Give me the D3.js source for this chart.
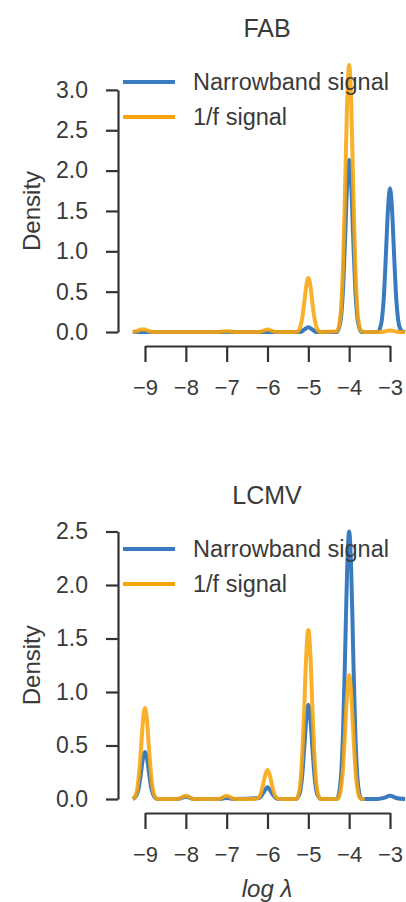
<!DOCTYPE html>
<meta charset="utf-8">
<script src="https://cdn.jsdelivr.net/npm/d3@7"></script>
<style>
  body { margin: 0; background: #fff; }
  text { font-family: "Liberation Sans", Arial, sans-serif; fill: #3a3a3a; }
</style>
<div id="dataviz"></div>
<script>
// series names + colours
var seriesNames = ["Narrowband signal", "1/f signal"];
var seriesColors = ["#3a7bbf", "#f8a50c"];
var xTicks = [-9, -8, -7, -6, -5, -4, -3];

// FAB panel, [log lambda, density]
var fabNarrow = [
  [-9.3, 0], [-8.0, 0], [-7.0, 0], [-6.0, 0], [-5.2, 0], [-5.1, 0.03], [-5.0, 0.06], [-4.9, 0.03], [-4.8, 0],
  [-4.3, 0], [-4.25, 0.05], [-4.2, 0.18], [-4.15, 0.53], [-4.1, 1.15], [-4.05, 1.83], [-4.0, 2.13],
  [-3.95, 1.83], [-3.9, 1.15], [-3.85, 0.53], [-3.8, 0.18], [-3.75, 0.05], [-3.7, 0],
  [-3.3, 0], [-3.25, 0.04], [-3.2, 0.15], [-3.15, 0.44], [-3.1, 0.96], [-3.05, 1.52], [-3.0, 1.78],
  [-2.95, 1.52], [-2.9, 0.96], [-2.85, 0.44], [-2.8, 0.15], [-2.75, 0.04], [-2.7, 0.01], [-2.63, 0]
];
var fabOneF = [
  [-9.3, 0], [-9.2, 0.01], [-9.1, 0.03], [-9.0, 0.03], [-8.9, 0.01], [-8.8, 0], [-8.0, 0],
  [-7.2, 0], [-7.0, 0.01], [-6.8, 0], [-6.2, 0], [-6.0, 0.03], [-5.8, 0], [-5.3, 0],
  [-5.25, 0.01], [-5.2, 0.06], [-5.15, 0.17], [-5.1, 0.36], [-5.05, 0.57], [-5.0, 0.67],
  [-4.95, 0.57], [-4.9, 0.36], [-4.85, 0.17], [-4.8, 0.06], [-4.75, 0.01], [-4.7, 0],
  [-4.3, 0.01], [-4.25, 0.07], [-4.2, 0.28], [-4.15, 0.83], [-4.1, 1.79], [-4.05, 2.84], [-4.0, 3.31],
  [-3.95, 2.84], [-3.9, 1.79], [-3.85, 0.83], [-3.8, 0.28], [-3.75, 0.07], [-3.7, 0.01], [-3.6, 0],
  [-3.2, 0], [-3.0, 0.02], [-2.8, 0], [-2.63, 0]
];

// LCMV panel
var lcmvNarrow = [
  [-9.3, 0], [-9.2, 0.04], [-9.15, 0.11], [-9.1, 0.24], [-9.05, 0.38], [-9.0, 0.44], [-8.95, 0.38],
  [-8.9, 0.24], [-8.85, 0.11], [-8.8, 0.04], [-8.7, 0], [-8.2, 0], [-8.0, 0.02], [-7.8, 0],
  [-7.2, 0], [-7.0, 0.01], [-6.8, 0], [-6.2, 0.01], [-6.15, 0.03], [-6.1, 0.06], [-6.05, 0.09], [-6.0, 0.11],
  [-5.95, 0.09], [-5.9, 0.06], [-5.85, 0.03], [-5.8, 0.01], [-5.7, 0], [-5.3, 0],
  [-5.25, 0.02], [-5.2, 0.07], [-5.15, 0.22], [-5.1, 0.48], [-5.05, 0.75], [-5.0, 0.88],
  [-4.95, 0.75], [-4.9, 0.48], [-4.85, 0.22], [-4.8, 0.07], [-4.75, 0.02], [-4.7, 0],
  [-4.3, 0], [-4.25, 0.05], [-4.2, 0.21], [-4.15, 0.62], [-4.1, 1.35], [-4.05, 2.14], [-4.0, 2.50],
  [-3.95, 2.14], [-3.9, 1.35], [-3.85, 0.62], [-3.8, 0.21], [-3.75, 0.05], [-3.7, 0],
  [-3.3, 0], [-3.15, 0.01], [-3.0, 0.03], [-2.85, 0.01], [-2.63, 0]
];
var lcmvOneF = [
  [-9.3, 0], [-9.25, 0.02], [-9.2, 0.07], [-9.15, 0.22], [-9.1, 0.46], [-9.05, 0.73], [-9.0, 0.85],
  [-8.95, 0.73], [-8.9, 0.46], [-8.85, 0.22], [-8.8, 0.07], [-8.75, 0.02], [-8.7, 0],
  [-8.2, 0], [-8.0, 0.03], [-7.8, 0], [-7.2, 0], [-7.0, 0.03], [-6.8, 0], [-6.3, 0],
  [-6.2, 0.02], [-6.15, 0.07], [-6.1, 0.15], [-6.05, 0.23], [-6.0, 0.27], [-5.95, 0.23],
  [-5.9, 0.15], [-5.85, 0.07], [-5.8, 0.02], [-5.7, 0], [-5.3, 0],
  [-5.25, 0.03], [-5.2, 0.13], [-5.15, 0.40], [-5.1, 0.85], [-5.05, 1.35], [-5.0, 1.58],
  [-4.95, 1.35], [-4.9, 0.85], [-4.85, 0.40], [-4.8, 0.13], [-4.75, 0.03], [-4.7, 0],
  [-4.3, 0], [-4.25, 0.02], [-4.2, 0.10], [-4.15, 0.29], [-4.1, 0.63], [-4.05, 0.99], [-4.0, 1.16],
  [-3.95, 0.99], [-3.9, 0.63], [-3.85, 0.29], [-3.8, 0.10], [-3.75, 0.02], [-3.7, 0], [-3.62, 0]
];

var W = 406, H = 902;
var svg = d3.select("#dataviz").append("svg")
    .attr("width", W)
    .attr("height", H);

// shared x scale
var x = d3.scaleLinear().domain([-9, -3]).range([145, 390]);

function panel(opt) {
    var y = d3.scaleLinear().domain([0, opt.ymax]).range([opt.y0, opt.y0 - opt.unit * opt.ymax]);
    var g = svg.append("g");

    // title
    g.append("text")
        .attr("x", 267).attr("y", opt.titleY)
        .attr("text-anchor", "middle")
        .attr("dominant-baseline", "central")
        .style("font-size", "25px")
        .text(opt.title);

    // y axis (offset spine)
    var ya = g.append("g")
        .attr("transform", "translate(118,0)")
        .call(d3.axisLeft(y).tickValues(d3.range(0, opt.ymax + 0.01, 0.5)).tickFormat(d3.format(".1f")).tickSize(12).tickPadding(18).tickSizeOuter(0));
    // x axis
    var xa = g.append("g")
        .attr("transform", "translate(0," + opt.xAxisY + ")")
        .call(d3.axisBottom(x).tickValues(xTicks).tickFormat(d3.format("d")).tickSize(16).tickPadding(17).tickSizeOuter(0));
    [ya, xa].forEach(function(a) {
        a.select(".domain").attr("stroke", "#333").attr("stroke-width", 2.2);
        a.selectAll(".tick line").attr("stroke", "#333").attr("stroke-width", 2.2);
        a.selectAll(".tick text").style("font-size", "22px").style("font-family", "Liberation Sans, Arial, sans-serif").attr("fill", "#3a3a3a");
    });
    ya.selectAll(".tick text").style("font-size", "23px");

    g.append("text")
        .attr("transform", "translate(40," + ((y(0) + y(opt.ymax)) / 2) + ") rotate(-90)")
        .attr("text-anchor", "middle")
        .style("font-size", "24px")
        .text("Density");

    var line = d3.line()
        .x(d => x(d[0]))
        .y(d => y(d[1]))
        .curve(d3.curveMonotoneX);

    [opt.narrow, opt.onef].forEach(function(s, i) {
        g.append("path")
            .datum(s)
            .attr("fill", "none")
            .attr("stroke", seriesColors[i])
            .attr("stroke-width", 4)
            .attr("stroke-linejoin", "round")
            .attr("opacity", i == 1 ? 0.88 : 1)
            .attr("d", line);
    });

    // legend
    seriesNames.forEach(function(n, i) {
        var ly = opt.legY + i * 35;
        g.append("line")
            .attr("x1", 123).attr("x2", 175)
            .attr("y1", ly).attr("y2", ly)
            .attr("stroke", seriesColors[i])
            .attr("stroke-width", 4);
        g.append("text")
            .attr("x", 193).attr("y", ly)
            .attr("dominant-baseline", "central")
            .style("font-size", "23.5px")
            .text(n);
    });
}

panel({ title: "FAB", titleY: 28, ymax: 3.0, y0: 332, unit: 80.7, xAxisY: 346, legY: 82,
        narrow: fabNarrow, onef: fabOneF });
panel({ title: "LCMV", titleY: 495, ymax: 2.5, y0: 799, unit: 107, xAxisY: 813, legY: 549,
        narrow: lcmvNarrow, onef: lcmvOneF });

svg.append("text")
    .attr("x", 267).attr("y", 888)
    .attr("text-anchor", "middle")
    .attr("dominant-baseline", "central")
    .style("font-size", "24px")
    .style("font-style", "italic")
    .text("log λ");
</script>
